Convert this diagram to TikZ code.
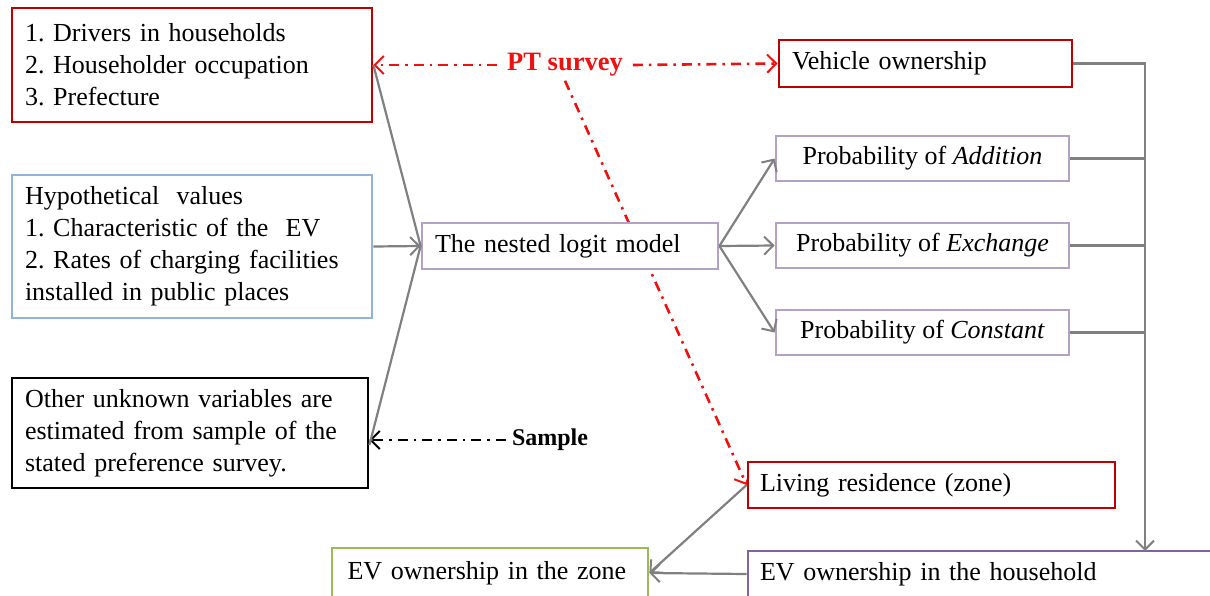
\documentclass[tikz,border=0pt]{standalone}
\usepackage{fontspec}
\setmainfont{Liberation Serif}
\usetikzlibrary{arrows.meta,backgrounds}
\frenchspacing
\definecolor{boxred}{HTML}{C00000}
\definecolor{lav}{HTML}{B3A2C7}
\definecolor{boxblue}{HTML}{95B3D7}
\definecolor{boxgreen}{HTML}{9BBB59}
\definecolor{boxpurple}{HTML}{8064A2}
\definecolor{linkgray}{HTML}{808080}
\definecolor{ptred}{HTML}{F01010}
\tikzset{
  every node/.style={font=\fontsize{26}{32}\selectfont},
  box/.style={draw, rectangle, line width=2.8pt, inner xsep=13pt, inner ysep=0pt,
    align=left, fill=white},
  tip/.style={-{Straight Barb[length=9pt,width=18pt,line width=2pt]}},
  plain/.style={draw=linkgray, line width=2.2pt},
  link/.style={plain, tip},
  dashdot/.style={line width=2.6pt, dash pattern=on 10pt off 6pt on 2.5pt off 6pt},
  ptline/.style={draw=ptred, dashdot, tip},
  spline/.style={draw=black, dashdot, line width=2.2pt, tip},
}
\begin{document}
\begin{tikzpicture}[x=1pt,y=-1pt]
\useasboundingbox (0,0) rectangle (1210,595);
\clip (0,0) rectangle (1210,595);

% input boxes on the left
\node[box, draw=boxred, minimum width=360, minimum height=114, text width=334]
  (drivers) at (192,65) {1. Drivers in households\\2. Householder occupation\\3. Prefecture};
\node[box, draw=boxblue, minimum width=360, minimum height=143, text width=334]
  (hypo) at (192,246.5) {Hypothetical\ \ values\\1. Characteristic of the\ \ EV\\
  \makebox[334pt][s]{2. Rates of charging facilities}\\installed in public places};
\node[box, draw=black, minimum width=356, minimum height=110, text width=330]
  (other) at (190,433) {\makebox[330pt][s]{Other unknown variables are}\\
  \makebox[330pt][s]{estimated from sample of the}\\stated preference survey.};

% model and outcomes
\node[box, draw=lav, minimum width=296, minimum height=46, text width=270]
  (nested) at (570,246) {The nested logit model};
\node[box, draw=boxred, minimum width=293, minimum height=47, text width=267]
  (vehicle) at (925.5,63.5) {Vehicle ownership};
\node[box, draw=lav, minimum width=293, minimum height=45, align=center]
  (addition) at (922.5,158.5) {Probability of \textit{Addition}};
\node[box, draw=lav, minimum width=293, minimum height=45, align=center]
  (exchange) at (922.5,245.5) {Probability of \textit{Exchange}};
\node[box, draw=lav, minimum width=293, minimum height=45, align=center]
  (constant) at (922.5,332.5) {Probability of \textit{Constant}};
\node[box, draw=boxred, minimum width=367, minimum height=46, inner xsep=12pt, text width=343]
  (living) at (931.5,485) {Living residence (zone)};
\node[box, draw=boxgreen, minimum width=316, minimum height=50, inner xsep=15.5pt, text width=285]
  (zone) at (490,573) {EV ownership in the zone};
\node[box, draw=boxpurple, minimum width=472, minimum height=46, inner xsep=12pt, text width=448]
  (household) at (984,574) {EV ownership in the household};

% data sources
\node[text=ptred, font=\fontsize{26.5}{32}\selectfont\bfseries, inner sep=4pt]
  (pt) at (565,65) {PT survey};
\node[font=\fontsize{24}{30}\selectfont\bfseries, inner sep=4pt]
  (sample) at (550,440) {Sample};

% PT survey line running behind the model box
\begin{scope}[on background layer]
  \draw[ptline] (pt.south) -- (living.west);
\end{scope}
\draw[ptline] ([xshift=-6pt]pt.west) -- (drivers.east);
\draw[ptline] ([xshift=6pt]pt.east) -- (vehicle.west);
\draw[spline] ([xshift=-2pt]sample.west) -- (other.east |- sample.west);

% inputs into the model
\draw[plain] (drivers.east) -- (nested.west);
\draw[plain] ([yshift=-12pt]other.east) -- (nested.west);
\draw[link] (hypo.east) -- (nested.west);

% model outputs
\draw[link] (nested.east) -- (addition.west);
\draw[link] (nested.east) -- (exchange.west);
\draw[link] (nested.east) -- (constant.west);

% collecting rail on the right
\coordinate (railtop) at (1145,63.5);
\coordinate (railbot) at (1145,551);
\draw[link] (vehicle.east) -- (railtop) -- (railbot);
\draw[plain] (addition.east) -- (addition.east -| railtop);
\draw[plain] (exchange.east) -- (exchange.east -| railtop);
\draw[plain] (constant.east) -- (constant.east -| railtop);

% towards zone ownership
\draw[link] (household.west) -- (zone.east);
\draw[link] (living.west) -- (zone.east);
\end{tikzpicture}
\end{document}
